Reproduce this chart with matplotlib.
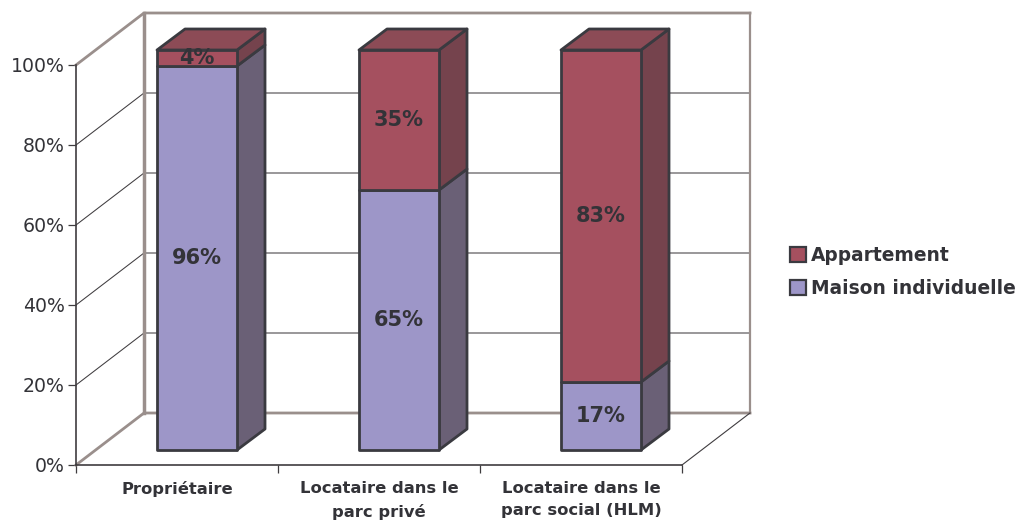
import matplotlib
matplotlib.use("Agg")
import matplotlib.pyplot as plt
from matplotlib.patches import Polygon, Patch

categories = ["Propriétaire", "Locataire dans le\nparc privé", "Locataire dans le\nparc social (HLM)"]
maison = [96, 65, 17]
appartement = [4, 35, 83]
labels_series = ["Appartement", "Maison individuelle"]
yticks = [0, 20, 40, 60, 80, 100]

W, H = 1018, 524
L, R, T, B = 76, 682, 65, 465
fig = plt.figure(figsize=(W / 100, H / 100), dpi=100, facecolor="white")
ax = fig.add_axes([L / W, 1 - B / H, (R - L) / W, (B - T) / H])
ax.set_xlim(0, 3)
ax.set_ylim(0, 100)
ax.patch.set_visible(False)

PX = 3 / (R - L)
PY = 100 / (B - T)
WALL = (68 * PX, 52 * PY)
SHIFT = (20 * PX, 15 * PY)
DEPTH = (28 * PX, 21 * PY)
BW = 80 * PX

WALLC = "#9a8f8c"
GRID = "#3f3c3f"
EDGE = "#3a3a40"
TXT = "#333338"
BLUE, BLUE_S = "#9d96c8", "#6a6076"
RED, RED_S, RED_T = "#a5505f", "#75434d", "#8c4b56"

wx, wy = WALL
# gridlines on back wall and left wall
for v in yticks[1:-1]:
    ax.plot([0, wx, 3 + wx], [v, v + wy, v + wy], color=GRID, lw=0.75, clip_on=False, zorder=1)
# wall outline
ax.plot([0, wx, 3 + wx], [100, 100 + wy, 100 + wy], color=WALLC, lw=2, clip_on=False, zorder=2)
ax.plot([wx, wx], [wy, 100 + wy], color=WALLC, lw=2.5, clip_on=False, zorder=2)
ax.plot([3 + wx, 3 + wx], [wy, 100 + wy], color=WALLC, lw=1.6, clip_on=False, zorder=2)
ax.plot([0, wx, 3 + wx], [0, wy, wy], color=WALLC, lw=2, clip_on=False, zorder=2)
ax.plot([3, 3 + wx], [0, wy], color=GRID, lw=0.8, clip_on=False, zorder=2)

def face(pts, color):
    ax.add_patch(Polygon(pts, closed=True, facecolor=color, edgecolor=EDGE, lw=2,
                         joinstyle="round", clip_on=False, zorder=3))

dx, dy = DEPTH
for i in range(len(categories)):
    x0 = i + 0.5 + SHIFT[0] - BW / 2
    x1 = x0 + BW
    s = SHIFT[1]
    m, a = maison[i], appartement[i]
    t = m + a
    face([(x1, s), (x1 + dx, s + dy), (x1 + dx, s + m + dy), (x1, s + m)], BLUE_S)
    face([(x1, s + m), (x1 + dx, s + m + dy), (x1 + dx, s + t + dy), (x1, s + t)], RED_S)
    face([(x0, s + t), (x1, s + t), (x1 + dx, s + t + dy), (x0 + dx, s + t + dy)], RED_T)
    face([(x0, s), (x1, s), (x1, s + m), (x0, s + m)], BLUE)
    face([(x0, s + m), (x1, s + m), (x1, s + t), (x0, s + t)], RED)
    xc = (x0 + x1) / 2
    ax.text(xc, s + m / 2, f"{m}%", ha="center", va="center", fontsize=15,
            fontweight="bold", color=TXT, zorder=4)
    ax.text(xc, s + m + a / 2, f"{a}%", ha="center", va="center", fontsize=15,
            fontweight="bold", color=TXT, zorder=4)

for sp in ("top", "right"):
    ax.spines[sp].set_visible(False)
for sp in ("left", "bottom"):
    ax.spines[sp].set_color(GRID)
    ax.spines[sp].set_linewidth(1.2)
    ax.spines[sp].set_zorder(2.5)

ax.set_yticks(yticks)
ax.set_yticklabels([f"{v}%" for v in yticks], fontsize=13.6, color=TXT)
ax.tick_params(axis="y", length=5.8, width=0.9, color=GRID, pad=2.2)
ax.set_xticks(range(4))
ax.set_xticklabels([])
ax.tick_params(axis="x", which="major", length=5.8, width=0.9, color=GRID)
ax.set_xticks([i + 0.5 for i in range(3)], minor=True)
ax.set_xticklabels(categories, minor=True, fontsize=11.8, fontweight="bold", color=TXT,
                   linespacing=1.6, va="top")
ax.tick_params(axis="x", which="minor", length=0, pad=11.5)

handles = [Patch(facecolor=RED, edgecolor=EDGE, lw=1.6), Patch(facecolor=BLUE, edgecolor=EDGE, lw=1.6)]
leg = fig.legend(handles, labels_series, loc="center left", bbox_to_anchor=(790 / W, 1 - 272 / H),
                 frameon=False, handlelength=0.85, handleheight=0.85, handletextpad=0.3,
                 labelspacing=0.78, borderpad=0, borderaxespad=0,
                 prop={"size": 13.4, "weight": "bold"}, labelcolor=TXT)

fig.savefig("out.png", dpi=100, facecolor="white")
